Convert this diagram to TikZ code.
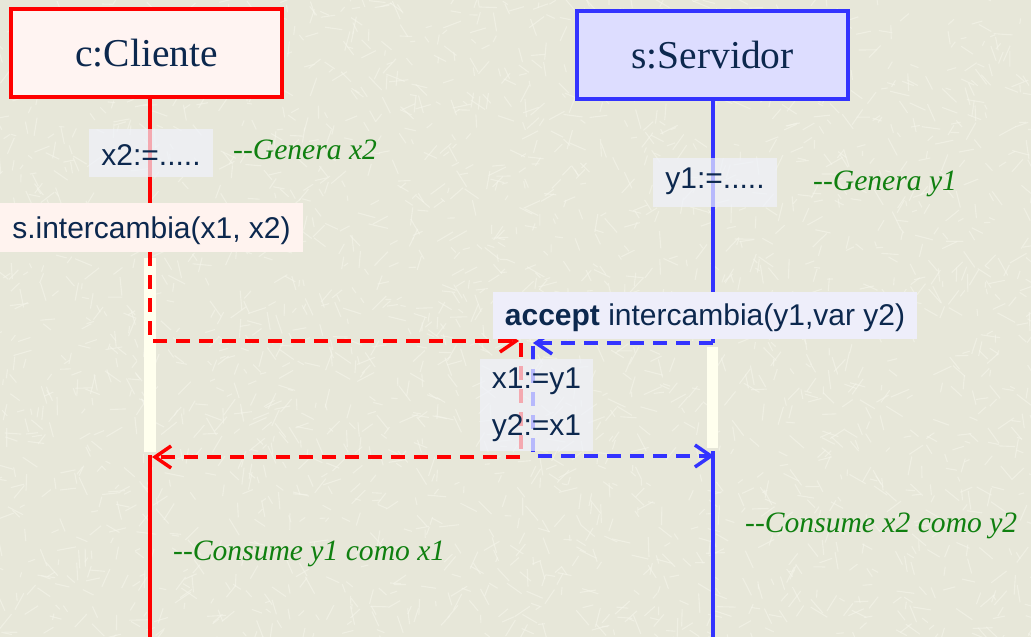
\documentclass[tikz,border=0pt]{standalone}
\usepackage{fontspec}
\setmainfont{Liberation Serif}
\setsansfont{Liberation Sans}
\usetikzlibrary{arrows.meta}
\definecolor{bgc}{RGB}{231,231,217}
\definecolor{texc}{RGB}{246,246,236}
\definecolor{navy}{RGB}{12,40,78}
\definecolor{redc}{RGB}{255,0,0}
\definecolor{bluec}{RGB}{51,51,255}
\definecolor{pinkf}{RGB}{255,244,242}
\definecolor{lavf}{RGB}{221,221,255}
\definecolor{lblf}{RGB}{240,242,252}
\definecolor{lblpink}{RGB}{255,243,239}
\definecolor{acceptf}{RGB}{238,238,250}
\definecolor{creamc}{RGB}{255,255,238}
\definecolor{greenc}{RGB}{16,128,16}
\begin{document}
\begin{tikzpicture}[x=1pt,y=-1pt,
  obj/.style={draw, line width=4pt, minimum width=271pt, minimum height=88pt, inner sep=0pt,
    text=navy, font=\fontsize{39.5}{46}\selectfont},
  lbl/.style={inner xsep=0pt, inner ysep=0pt, text=navy, font=\fontsize{30}{36}\sffamily\selectfont},
  cmt/.style={inner sep=0pt, text=greenc, font=\fontsize{29.6}{35}\selectfont\itshape},
  redline/.style={draw=redc, line width=4pt},
  blueline/.style={draw=bluec, line width=4pt},
  reddash/.style={draw=redc, line width=3.5pt, dash pattern=on 14pt off 9pt},
  bluedash/.style={draw=bluec, line width=3.5pt, dash pattern=on 14pt off 9pt},
  barb/.style={-{Straight Barb[length=16pt,width=22pt]}}
]
\useasboundingbox (0,0) rectangle (1031,637);
\fill[bgc] (0,0) rectangle (1031,637);
% background texture
\begin{scope}
\clip (0,0) rectangle (1031,637);
\pgfmathsetseed{7}
\foreach \i in {1,...,2600}{
  \pgfmathsetmacro{\px}{rnd*1050-10}
  \pgfmathsetmacro{\py}{rnd*660-10}
  \pgfmathsetmacro{\pa}{rnd*180}
  \pgfmathsetmacro{\pl}{5+rnd*15}
  \draw[texc, line width=1.1pt, opacity=0.55] (\px,\py) -- ++(\pa:\pl);
}
\end{scope}

% activation bars
\fill[creamc] (144,258) rectangle (156,452);
\fill[creamc] (707,347) rectangle (718,448);

% objects
\node[obj, draw=redc, fill=pinkf] (cli) at (146.5,53) {c:Cliente};
\node[obj, draw=bluec, fill=lavf] (srv) at (712.5,55) {s:Servidor};

% key points
\coordinate (cA) at (150,252);
\coordinate (cB) at (150,341);
\coordinate (cC) at (519,341);
\coordinate (cD) at (521,343);
\coordinate (cE) at (521,457);
\coordinate (cF) at (152,457);
\coordinate (cG) at (150,455);
\coordinate (cEnd) at (150,640);
\coordinate (sA) at (712.5,343);
\coordinate (sB) at (533,343);
\coordinate (sC) at (533,346);
\coordinate (sD) at (533,456);
\coordinate (sE) at (714,456);
\coordinate (sF) at (712.5,451);
\coordinate (sEnd) at (712.5,640);

% lifelines
\draw[redline] (cA |- cli.south) -- (cA);
\draw[reddash, barb] (cA) -- (cB) -- (cC);
\draw[reddash, barb] (cD) -- (cE) -- (cF);
\draw[redline] (cG) -- (cEnd);

\draw[blueline] (srv.south) -- (sA);
\draw[bluedash, barb] (sA) -- (sB);
\draw[bluedash, barb] (sC) -- (sD) -- (sE);
\draw[blueline] (sF) -- (sEnd);

% labels (text height/depth fix the baseline inside each box)
\node[lbl, fill=lblf, fill opacity=0.7, text opacity=1, minimum width=124pt,
  text height=36pt, text depth=12pt, anchor=north] (x2) at (151,129) {x2:=.....};
\node[lbl, fill=lblpink, minimum width=303pt,
  text height=35pt, text depth=14pt, anchor=north] (inter) at (151.5,203) {s.intercambia(x1, x2)};
\node[lbl, fill=lblf, fill opacity=0.7, text opacity=1, minimum width=124pt,
  text height=30pt, text depth=19pt, anchor=north] (y1) at (715,158) {y1:=.....};
\node[lbl, fill=acceptf, minimum width=424pt,
  text height=33pt, text depth=14pt, anchor=north] (acc) at (705,292) {\textbf{accept} intercambia(y1,var y2)};
\node[lbl, fill=lblf, fill opacity=0.7, text opacity=1, minimum width=113pt, minimum height=92pt, align=left,
  font=\fontsize{30}{47}\sffamily\selectfont] (xy) at (536.5,405) {x1:=y1\\y2:=x1};

% comments
\node[cmt, anchor=base west] (g2) at (233,159) {-{}-Genera x2};
\node[cmt, anchor=base west] (g1) at (813,190) {-{}-Genera y1};
\node[cmt, anchor=base west] (c1) at (173,560) {-{}-Consume y1 como x1};
\node[cmt, anchor=base west] (c2) at (745,532) {-{}-Consume x2 como y2};
\end{tikzpicture}
\end{document}
